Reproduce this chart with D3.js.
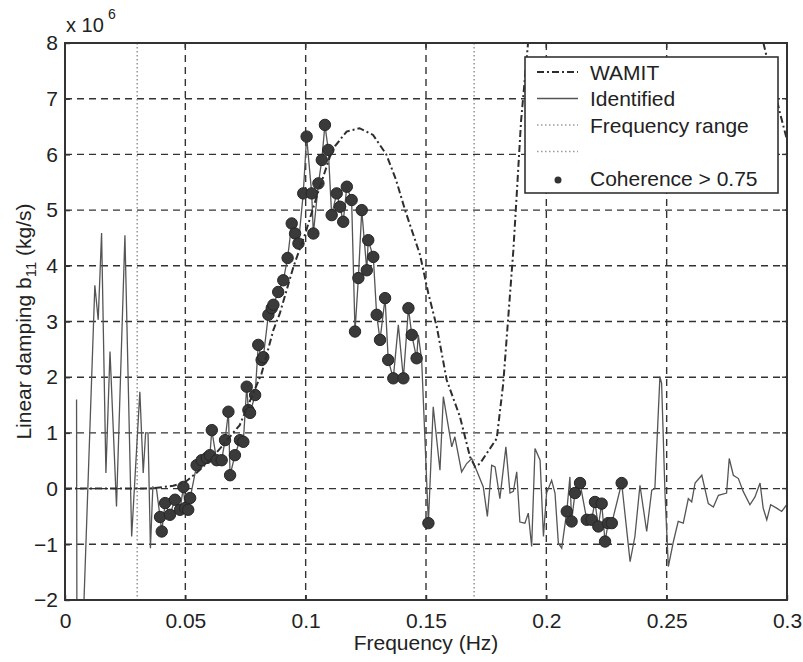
<!DOCTYPE html>
<html>
<head>
<meta charset="utf-8">
<script src="https://cdn.jsdelivr.net/npm/d3@7"></script>
<style>
  html, body { margin: 0; padding: 0; background: #fff; overflow: hidden; }
  svg { display: block; }
  text { font-family: "Liberation Sans", Arial, Helvetica, sans-serif; fill: #222; }
</style>
</head>
<body>
<div class="chart"></div>
<script>
// tick values and labels
const xTicks = [0, 0.05, 0.1, 0.15, 0.2, 0.25, 0.3];
const xTickLabels = ["0", "0.05", "0.1", "0.15", "0.2", "0.25", "0.3"];
const yTicks = [-2, -1, 0, 1, 2, 3, 4, 5, 6, 7, 8];
const freqRange = [0.03, 0.17];

// WAMIT curve (x 10^6 kg/s), null = off the top of the plot
const wamitFreq = [0, 0.020, 0.035, 0.045, 0.050, 0.0546, 0.060, 0.065, 0.0726, 0.0817, 0.0866, 0.0893,
  0.0949, 0.100, 0.105, 0.110, 0.1122, 0.117, 0.1224, 0.128, 0.1335, 0.1375, 0.1413, 0.1475, 0.151,
  0.1545, 0.1586, 0.1641, 0.1683, 0.1704, 0.1724, 0.1794, 0.1821, 0.1842, 0.1863, 0.1880, 0.1895,
  0.1924, 0.24, 0.2902, 0.2971, 0.3];
const wamitDamp = [0, 0, 0, 0.05, 0.12, 0.28, 0.50, 0.75, 1.14, 2.07, 2.85, 3.15,
  3.98, 4.60, 5.30, 5.95, 6.15, 6.41, 6.47, 6.35, 6.00, 5.55, 5.00, 4.20, 3.50,
  2.90, 1.95, 1.29, 0.57, 0.39, 0.45, 0.90, 1.89, 3.09, 4.28, 5.50, 6.60,
  8.00, null, 8.00, 6.74, 6.26];

// Identified damping
const identFreq = [
  0.0048, 0.0050, 0.0063, 0.0124, 0.0138, 0.0152, 0.0170, 0.0187, 0.0214, 0.0249, 0.0277, 0.0311,
  0.0325, 0.0335, 0.0345, 0.0355, 0.0365, 0.0380,
  0.0395, 0.0402, 0.0416, 0.0436, 0.0457, 0.0478, 0.0492, 0.0499, 0.0512, 0.0520, 0.0547, 0.0568,
  0.0589, 0.0602, 0.0610, 0.0630, 0.0651, 0.0665, 0.0679, 0.0686, 0.0706, 0.0727, 0.0741, 0.0755,
  0.0762, 0.0769, 0.0790, 0.0803, 0.0817, 0.0824, 0.0845, 0.0859, 0.0866, 0.0886, 0.0907, 0.0925,
  0.0942, 0.0956, 0.0970, 0.0990, 0.1004, 0.1025, 0.1032, 0.1053, 0.1067, 0.1080, 0.1094, 0.1108,
  0.1129, 0.1143, 0.1156, 0.1171, 0.1191, 0.1205, 0.1219, 0.1233, 0.1254, 0.1260, 0.1281, 0.1295,
  0.1309, 0.1330, 0.1343, 0.1364, 0.1385, 0.1406, 0.1427, 0.1441, 0.1461, 0.1468, 0.1482, 0.1510,
  0.1530, 0.1558, 0.1572, 0.1607, 0.1620, 0.1648, 0.1669, 0.1690, 0.1710, 0.1738, 0.1755, 0.1773,
  0.1787, 0.1807, 0.1832, 0.1849, 0.1863, 0.1877, 0.1890, 0.1911, 0.1925, 0.1939, 0.1953, 0.1974,
  0.1988, 0.2001, 0.2022, 0.2036, 0.2050, 0.2064,
  0.2085, 0.2098, 0.2105, 0.2119, 0.2140, 0.2168, 0.2188, 0.2202, 0.2216, 0.2230, 0.2244, 0.2257,
  0.2272, 0.2313,
  0.2348, 0.2368, 0.2389, 0.2417, 0.2438, 0.2451, 0.2472, 0.2479, 0.2493, 0.2507, 0.2528, 0.2548,
  0.2569, 0.2590, 0.2604, 0.2618, 0.2646, 0.2673, 0.2694, 0.2715, 0.2749, 0.2760, 0.2777, 0.2798,
  0.2818, 0.2846, 0.2867, 0.2888, 0.2901, 0.2916, 0.2932, 0.2957, 0.2978, 0.2999];
const identDamp = [
  1.60, -4.00, -4.00, 3.65, 3.03, 4.59, 0.28, 2.46, -0.32, 4.55, -0.86, 1.74,
  0.28, 1.00, 1.00, -1.07, 0.03, 0.00,
  -0.51, -0.77, -0.26, -0.47, -0.20, -0.38, 0.03, -0.35, -0.38, -0.17, 0.42, 0.51,
  0.55, 0.60, 1.05, 0.51, 0.51, 0.87, 1.38, 0.24, 0.60, 0.87, 0.84, 1.83,
  1.41, 1.36, 1.68, 2.58, 2.31, 2.36, 3.12, 3.24, 3.30, 3.53, 3.74, 4.14,
  4.76, 4.58, 4.40, 5.30, 6.32, 5.30, 4.58, 5.48, 5.90, 6.53, 6.08, 4.91,
  5.30, 5.06, 4.79, 5.42, 5.18, 2.82, 3.78, 5.00, 3.92, 4.46, 4.16, 3.12,
  2.67, 3.42, 2.31, 1.98, 2.94, 1.98, 3.24, 2.76, 2.34, 2.76, 2.31, -0.62,
  1.47, 0.33, 1.65, 0.75, 0.93, 0.30, 0.45, 0.54, 0.33, 0.03, -0.50, 0.42,
  0.39, -0.18, 0.75, -0.08, -0.05, 0.30, -0.60, -0.62, -0.44, -1.04, 0.72, 0.51,
  -0.86, -0.08, 0.15, -0.08, -0.98, -1.07,
  -0.41, 0.21, -0.59, -0.08, 0.10, -0.56, -0.56, -0.24, -0.68, -0.27, -0.95, -0.62,
  -0.62, 0.10,
  -1.31, -0.86, 0.06, -0.77, -0.03, 0.00, 2.01, 1.89, -0.08, -1.40, -0.95, -0.59,
  -0.62, -0.18, -0.24, 0.10, 0.24, -0.27, -0.33, -0.12, -0.08, 0.54, 0.24, 0.18,
  -0.05, -0.29, -0.15, 0.10, -0.35, -0.56, -0.29, -0.35, -0.41, -0.29];
// 1 = coherence > 0.75 at that frequency
const identCoh = [
  0, 0, 0, 0, 0, 0, 0, 0, 0, 0, 0, 0,
  0, 0, 0, 0, 0, 0,
  1, 1, 1, 1, 1, 1, 1, 1, 1, 1, 1, 1,
  1, 1, 1, 1, 1, 1, 1, 1, 1, 1, 1, 1,
  1, 1, 1, 1, 1, 1, 1, 1, 1, 1, 1, 1,
  1, 1, 1, 1, 1, 1, 1, 1, 1, 1, 1, 1,
  1, 1, 1, 1, 1, 1, 1, 1, 1, 1, 1, 1,
  1, 1, 1, 1, 0, 1, 1, 1, 1, 0, 0, 1,
  0, 0, 0, 0, 0, 0, 0, 0, 0, 0, 0, 0,
  0, 0, 0, 0, 0, 0, 0, 0, 0, 0, 0, 0,
  0, 0, 0, 0, 0, 0,
  1, 0, 1, 1, 1, 1, 1, 1, 1, 1, 1, 1,
  1, 1,
  0, 0, 0, 0, 0, 0, 0, 0, 0, 0, 0, 0,
  0, 0, 0, 0, 0, 0, 0, 0, 0, 0, 0, 0,
  0, 0, 0, 0, 0, 0, 0, 0, 0, 0];

const legendLabels = ["WAMIT", "Identified", "Frequency range", "", "Coherence > 0.75"];

// layout
const width = 803, height = 662;
const margin = {top: 43, right: 16, bottom: 62, left: 65};
const innerWidth = width - margin.left - margin.right;
const innerHeight = height - margin.top - margin.bottom;
const ink = "#333";
const fontFamily = '"Liberation Sans", Arial, Helvetica, sans-serif';

const svg = d3.select(".chart").append("svg")
  .attr("width", width)
  .attr("height", height)
  .attr("font-family", fontFamily);

const x = d3.scaleLinear().domain([0, 0.3]).range([0, innerWidth]);
const y = d3.scaleLinear().domain([-2, 8]).range([innerHeight, 0]);

const g = svg.append("g").attr("transform", `translate(${margin.left}, ${margin.top})`);

svg.append("clipPath").attr("id", "plotClip")
  .append("rect").attr("x", 0).attr("y", 0).attr("width", innerWidth).attr("height", innerHeight);

// grid
g.append("g").selectAll("line")
  .data(xTicks.slice(1, -1))
  .join("line")
    .attr("x1", d => x(d)).attr("x2", d => x(d))
    .attr("y1", 0).attr("y2", innerHeight)
    .attr("stroke", ink).attr("stroke-width", 1.4).attr("stroke-dasharray", "7,5");
g.append("g").selectAll("line")
  .data(yTicks.slice(1, -1))
  .join("line")
    .attr("x1", 0).attr("x2", innerWidth)
    .attr("y1", d => y(d)).attr("y2", d => y(d))
    .attr("stroke", ink).attr("stroke-width", 1.4).attr("stroke-dasharray", "7,5");

// frequency range markers
g.append("g").selectAll("line")
  .data(freqRange)
  .join("line")
    .attr("x1", d => x(d)).attr("x2", d => x(d))
    .attr("y1", 0).attr("y2", innerHeight)
    .attr("stroke", "#9a9a9a").attr("stroke-width", 1.6).attr("stroke-dasharray", "1.5,2.5");

const plot = g.append("g").attr("clip-path", "url(#plotClip)");

// identified line and coherence dots
const ident = identFreq.map((f, i) => ({f, v: identDamp[i], c: identCoh[i]}));
const line = d3.line().x(d => x(d.f)).y(d => y(d.v));

plot.append("path")
  .datum(ident)
  .attr("d", line)
  .attr("fill", "none")
  .attr("stroke", "#555")
  .attr("stroke-width", 1.3);

plot.append("g").selectAll("circle")
  .data(ident.filter(d => d.c === 1))
  .join("circle")
    .attr("cx", d => x(d.f))
    .attr("cy", d => y(d.v))
    .attr("r", 5.7)
    .attr("fill", "#3a3a3a")
    .attr("stroke", "#262626")
    .attr("stroke-width", 1);

// WAMIT line
const wamit = wamitFreq.map((f, i) => ({f, v: wamitDamp[i]}));
plot.append("path")
  .datum(wamit)
  .attr("d", d3.line().defined(d => d.v !== null).x(d => x(d.f)).y(d => y(d.v)))
  .attr("fill", "none")
  .attr("stroke", "#2e2e2e")
  .attr("stroke-width", 2)
  .attr("stroke-dasharray", "7,3,2,3");

// axes with inward ticks
const xAxis = g.append("g")
  .attr("transform", `translate(0, ${innerHeight})`)
  .call(d3.axisBottom(x).tickValues(xTicks).tickFormat((d, i) => xTickLabels[i])
    .tickSizeInner(-5).tickSizeOuter(0).tickPadding(13));
const yAxis = g.append("g")
  .call(d3.axisLeft(y).tickValues(yTicks).tickFormat(d3.format("d"))
    .tickSizeInner(-5).tickSizeOuter(0).tickPadding(7));
[xAxis, yAxis].forEach(a => {
  a.attr("font-size", 21).attr("font-family", fontFamily);
  a.select(".domain").remove();
  a.selectAll("line").attr("stroke", ink).attr("stroke-width", 1.4);
  a.selectAll("text").attr("fill", "#222");
});

// ticks on top and right
g.append("g").selectAll("line").data(xTicks).join("line")
  .attr("x1", d => x(d)).attr("x2", d => x(d)).attr("y1", 0).attr("y2", 5)
  .attr("stroke", ink).attr("stroke-width", 1.4);
g.append("g").selectAll("line").data(yTicks).join("line")
  .attr("x1", innerWidth - 5).attr("x2", innerWidth).attr("y1", d => y(d)).attr("y2", d => y(d))
  .attr("stroke", ink).attr("stroke-width", 1.4);

// frame
g.append("rect")
  .attr("width", innerWidth).attr("height", innerHeight)
  .attr("fill", "none").attr("stroke", ink).attr("stroke-width", 2);

// exponent label
svg.append("text").attr("x", 66).attr("y", 32).attr("font-size", 20).text("x 10");
svg.append("text").attr("x", 108).attr("y", 19).attr("font-size", 14).text("6");

// axis titles
svg.append("text")
  .attr("x", margin.left + innerWidth / 2)
  .attr("y", 650)
  .attr("text-anchor", "middle")
  .attr("font-size", 21)
  .text("Frequency (Hz)");

const yTitle = svg.append("text")
  .attr("transform", `translate(31, ${margin.top + innerHeight / 2}) rotate(-90)`)
  .attr("text-anchor", "middle")
  .attr("font-size", 21);
yTitle.append("tspan").text("Linear damping b");
yTitle.append("tspan").attr("font-size", 15).attr("dy", 5).text("11");
yTitle.append("tspan").attr("dy", -5).text(" (kg/s)");

// legend
const legend = svg.append("g");
legend.append("rect")
  .attr("x", 525).attr("y", 57).attr("width", 253).attr("height", 136)
  .attr("fill", "#fff").attr("stroke", ink).attr("stroke-width", 1.6);

const rowY = [72, 98.5, 125, 151.5, 178];
const legendStyles = [
  {stroke: "#2e2e2e", width: 2, dash: "7,3,2,3"},
  {stroke: "#555", width: 1.3, dash: null},
  {stroke: "#9a9a9a", width: 1.6, dash: "1.5,2.5"},
  {stroke: "#9a9a9a", width: 1.6, dash: "1.5,2.5"},
  null
];
legendStyles.forEach((s, i) => {
  if (s) {
    legend.append("line")
      .attr("x1", 537).attr("x2", 578).attr("y1", rowY[i]).attr("y2", rowY[i])
      .attr("stroke", s.stroke).attr("stroke-width", s.width)
      .attr("stroke-dasharray", s.dash);
  } else {
    legend.append("circle").attr("cx", 558).attr("cy", rowY[i] + 2).attr("r", 3.5).attr("fill", "#333");
  }
  legend.append("text")
    .attr("x", 590).attr("y", rowY[i]).attr("dy", "0.36em")
    .attr("font-size", 21)
    .text(legendLabels[i]);
});
</script>
</body>
</html>
